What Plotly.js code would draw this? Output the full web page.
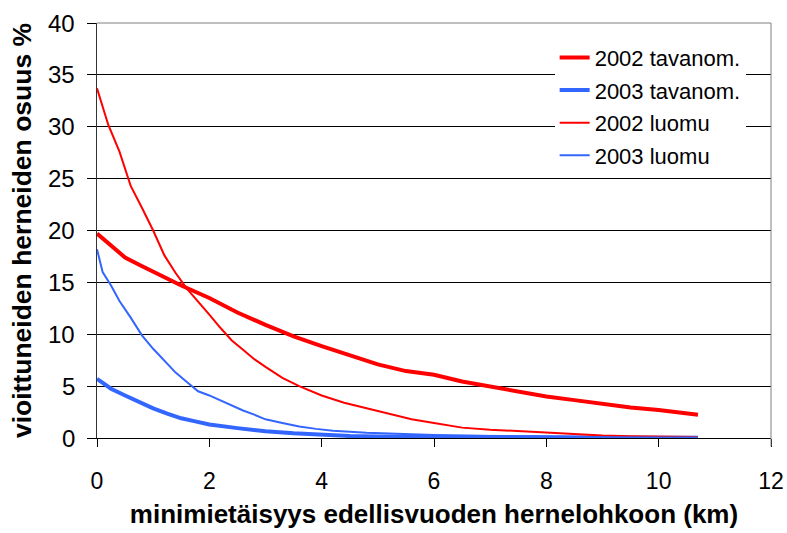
<!DOCTYPE html>
<html>
<head>
<meta charset="utf-8">
<script src="https://cdn.plot.ly/plotly-3.0.1.min.js"></script>
<style>html,body{margin:0;padding:0;background:#fff;}#chart{width:787px;height:533px;}</style>
</head>
<body>
<div id="chart"></div>
<script>
// Series names
const seriesNames = ["2002 tavanom.", "2003 tavanom.", "2002 luomu", "2003 luomu"];

// 2002 tavanom. (thick red)
const x2002tav = [0, 0.25, 0.5, 0.75, 1, 1.25, 1.5, 2, 2.5, 3, 3.5, 4, 4.5, 5, 5.5, 6, 6.5, 7, 7.5, 8, 8.5, 9, 9.5, 10, 10.35, 10.7];
const y2002tav = [19.7, 18.6, 17.4, 16.7, 16.0, 15.4, 14.7, 13.5, 12.1, 10.9, 9.8, 8.85, 7.95, 7.1, 6.45, 6.1, 5.45, 4.95, 4.45, 4.0, 3.65, 3.3, 2.95, 2.7, 2.45, 2.25];

// 2003 tavanom. (thick blue)
const x2003tav = [0, 0.25, 0.5, 0.75, 1, 1.25, 1.5, 1.75, 2, 2.5, 3, 3.5, 4, 4.5, 5, 6, 7, 8, 9, 10, 10.7];
const y2003tav = [5.7, 4.75, 4.1, 3.45, 2.85, 2.35, 1.9, 1.6, 1.3, 0.95, 0.65, 0.45, 0.3, 0.2, 0.15, 0.1, 0.07, 0.05, 0.04, 0.03, 0.03];

// 2002 luomu (thin red)
const x2002luo = [0, 0.2, 0.4, 0.6, 0.8, 1.0, 1.2, 1.4, 1.6, 1.8, 2.0, 2.2, 2.4, 2.6, 2.8, 3.0, 3.3, 3.6, 4.0, 4.4, 4.8, 5.2, 5.6, 6.0, 6.5, 7.0, 7.5, 8.0, 8.5, 9.0, 9.5, 10.0, 10.7];
const y2002luo = [33.7, 30.2, 27.6, 24.3, 22.2, 20.0, 17.6, 15.9, 14.4, 13.2, 11.9, 10.6, 9.4, 8.5, 7.6, 6.85, 5.8, 5.0, 4.1, 3.4, 2.85, 2.35, 1.8, 1.45, 1.0, 0.8, 0.65, 0.5, 0.38, 0.25, 0.18, 0.13, 0.1];

// 2003 luomu (thin blue)
const x2003luo = [0, 0.1, 0.25, 0.4, 0.6, 0.8, 1.0, 1.2, 1.4, 1.6, 1.8, 2.0, 2.2, 2.4, 2.6, 2.8, 3.0, 3.3, 3.6, 3.9, 4.2, 4.8, 5.4, 6, 7, 8, 9, 10, 10.7];
const y2003luo = [18.2, 16.0, 14.7, 13.2, 11.6, 9.9, 8.6, 7.4, 6.3, 5.4, 4.5, 4.1, 3.6, 3.1, 2.65, 2.25, 1.8, 1.45, 1.1, 0.88, 0.7, 0.5, 0.39, 0.3, 0.2, 0.12, 0.08, 0.06, 0.05];

const xTickVals = [0, 2, 4, 6, 8, 10, 12];
const yTickVals = [0, 5, 10, 15, 20, 25, 30, 35, 40];

const xTitle = "minimietäisyys edellisvuoden hernelohkoon (km)";
const yTitle = "vioittuneiden herneiden osuus %";

const RED = "#ff0000", BLUE = "#3366ff";

const traces = [
  {x: x2002tav, y: y2002tav, name: seriesNames[0], mode: "lines", line: {color: RED, width: 4}, legendgroup: "a"},
  {x: x2003tav, y: y2003tav, name: seriesNames[1], mode: "lines", line: {color: BLUE, width: 4}, legendgroup: "b"},
  {x: x2002luo, y: y2002luo, name: seriesNames[2], mode: "lines", line: {color: RED, width: 2}, legendgroup: "c"},
  {x: x2003luo, y: y2003luo, name: seriesNames[3], mode: "lines", line: {color: BLUE, width: 2}, legendgroup: "d"}
];

const FONT = "Liberation Sans, Arial, sans-serif";

// y tick labels placed on the y scale as annotations
const yTickAnnotations = yTickVals.map(v => ({
  text: String(v), x: 0, xref: "paper", y: v, yref: "y",
  xanchor: "right", yanchor: "middle", xshift: -20, showarrow: false,
  font: {family: FONT, size: 24, color: "#000"}
}));

const layout = {
  width: 787, height: 533,
  margin: {l: 97, r: 16, t: 23, b: 95},
  paper_bgcolor: "#ffffff", plot_bgcolor: "#ffffff",
  font: {family: FONT, size: 20, color: "#000"},
  showlegend: true,
  legend: {
    x: 0.679, y: 0.967, xanchor: "left", yanchor: "top",
    bgcolor: "#ffffff", borderwidth: 0,
    font: {family: FONT, size: 22, color: "#000"},
    traceorder: "grouped", tracegroupgap: 1
  },
  xaxis: {
    range: [0, 12], tickvals: xTickVals, ticktext: xTickVals.map(String),
    ticks: "outside", ticklen: 8, tickwidth: 1, tickcolor: "#000",
    showline: true, linecolor: "#000", linewidth: 1,
    showgrid: false, zeroline: false,
    ticklabelstandoff: 14,
    tickfont: {family: FONT, size: 23, color: "#000"},
    title: {text: xTitle, font: {family: FONT, size: 26, color: "#000", weight: "bold"}, standoff: 12},
    automargin: false
  },
  yaxis: {
    range: [0, 40], tickvals: yTickVals,
    ticks: "outside", ticklen: 9, tickwidth: 1, tickcolor: "#000",
    showline: true, linecolor: "#333", linewidth: 1,
    showgrid: true, gridcolor: "#000", gridwidth: 1, zeroline: false,
    showticklabels: false,
    title: {text: yTitle, font: {family: FONT, size: 26.5, color: "#000", weight: "bold"}, standoff: 47},
    automargin: false
  },
  annotations: yTickAnnotations,
  shapes: [
    {type: "line", xref: "paper", yref: "paper", x0: 0, x1: 1, y0: 1, y1: 1, line: {color: "#808080", width: 1}, layer: "above"},
    {type: "line", xref: "paper", yref: "paper", x0: 1, x1: 1, y0: -0.02, y1: 1, line: {color: "#808080", width: 1}, layer: "above"}
  ]
};

Plotly.newPlot("chart", traces, layout, {staticPlot: true, displayModeBar: false});
</script>
</body>
</html>
